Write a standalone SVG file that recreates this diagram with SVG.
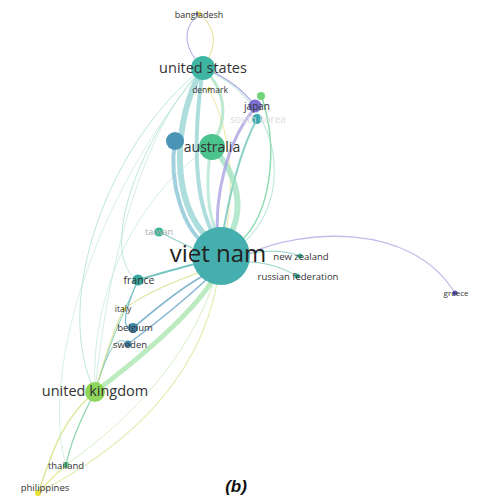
<svg xmlns="http://www.w3.org/2000/svg" width="478" height="496" viewBox="0 0 478 496">
<style>
.e{fill:none;stroke-linecap:round}
.t{font-family:"Open Sans","DejaVu Sans",sans-serif;fill:#333;text-anchor:middle}
</style>
<rect width="478" height="496" fill="#fff"/>
<g id="connectors">
<path class="e" d="M203,68 C110,140 50,300 95,392" stroke="#9fdcd0" stroke-width="1" opacity="0.7"/>
<path class="e" d="M203,68 C130,150 100,260 138,280" stroke="#9fdcd0" stroke-width="1" opacity="0.7"/>
<path class="e" d="M203,68 C150,120 110,240 95,392" stroke="#b6e3d3" stroke-width="1" opacity="0.6"/>
<path class="e" d="M211,146 C130,200 90,300 95,392" stroke="#b6e3d3" stroke-width="1" opacity="0.6"/>
<path class="e" d="M203,68 C300,110 290,230 221,256" stroke="#a9e0d2" stroke-width="1.2" opacity="0.7"/>
<path class="e" d="M199,14 C180,30 185,50 203,68" stroke="#a9a4e0" stroke-width="1"/>
<path class="e" d="M199,14 C220,30 215,50 203,68" stroke="#e6e08a" stroke-width="1"/>
<path class="e" d="M209,89 C235,140 235,200 221,256" stroke="#e6e08a" stroke-width="1" opacity="0.8"/>
<path class="e" d="M203,68 C230,78 245,92 256,107" stroke="#a9a4e0" stroke-width="1.2"/>
<path class="e" d="M261,95 C280,150 270,215 240,242" stroke="#8fdcb0" stroke-width="1.5"/>
<path class="e" d="M257,119 C240,150 228,200 222,240" stroke="#6fc6bc" stroke-width="2" opacity="0.8"/>
<path class="e" d="M203,68 C172,120 170,205 210,240" stroke="#8ccfd0" stroke-width="6" opacity="0.7"/>
<path class="e" d="M203,68 C194,130 192,195 214,236" stroke="#8ccfd0" stroke-width="4" opacity="0.7"/>
<path class="e" d="M175,141 C168,185 185,230 205,244" stroke="#7bbcd0" stroke-width="4" opacity="0.7"/>
<path class="e" d="M211,146 C245,180 242,222 226,240" stroke="#9ee0c0" stroke-width="6" opacity="0.75"/>
<path class="e" d="M211,146 C205,185 208,215 218,236" stroke="#a8e3cc" stroke-width="3" opacity="0.7"/>
<path class="e" d="M203,68 C228,92 228,122 211,146" stroke="#a7e2bf" stroke-width="3" opacity="0.75"/>
<path class="e" d="M256,107 C226,140 214,200 218,240" stroke="#aaa4e4" stroke-width="3" opacity="0.8"/>
<path class="e" d="M95,392 C150,350 195,310 214,278" stroke="#ace6b0" stroke-width="5" opacity="0.8"/>
<path class="e" d="M455,293 C410,220 300,230 248,254" stroke="#c0bcea" stroke-width="1.3"/>
<path class="e" d="M300,256 C285,250 265,250 248,254" stroke="#8fd2c6" stroke-width="1"/>
<path class="e" d="M297,276 C280,266 262,262 248,262" stroke="#8fd2c6" stroke-width="1"/>
<path class="e" d="M138,280 C165,272 185,266 200,263" stroke="#5fbab5" stroke-width="2.2" opacity="0.85"/>
<path class="e" d="M158,231 C175,240 188,246 196,250" stroke="#8fd2c6" stroke-width="1.2"/>
<path class="e" d="M133,328 C160,305 185,285 205,275" stroke="#6fa9c8" stroke-width="1.8" opacity="0.85"/>
<path class="e" d="M128,344 C160,320 190,295 208,278" stroke="#6fa9c8" stroke-width="1.5" opacity="0.85"/>
<path class="e" d="M124,309 C150,290 180,280 200,272" stroke="#d8df8a" stroke-width="1"/>
<path class="e" d="M138,280 C125,310 120,330 133,328" stroke="#7fb6cf" stroke-width="1.2"/>
<path class="e" d="M95,392 C105,360 115,330 128,344" stroke="#7fc6c0" stroke-width="1"/>
<path class="e" d="M95,392 C110,340 125,310 138,280" stroke="#7fd0c0" stroke-width="1"/>
<path class="e" d="M95,392 C110,340 118,320 124,309" stroke="#d8df8a" stroke-width="1"/>
<path class="e" d="M95,392 C60,420 50,460 38,493" stroke="#dce99a" stroke-width="1.5"/>
<path class="e" d="M95,392 C80,420 70,445 66,465" stroke="#8fd6b0" stroke-width="1.3"/>
<path class="e" d="M221,256 C210,380 120,450 38,493" stroke="#e2eeb0" stroke-width="1.2"/>
<path class="e" d="M221,256 C200,350 130,420 66,465" stroke="#d7efc8" stroke-width="1"/>
<path class="e" d="M66,465 C55,475 45,485 38,493" stroke="#e6e88a" stroke-width="1.2"/>
<path class="e" d="M203,68 C90,200 40,380 66,465" stroke="#c7ead8" stroke-width="1" opacity="0.7"/>
</g>
<g id="node-bangladesh"><circle cx="199" cy="14" r="2.5" fill="#e6d84a"/><circle cx="197" cy="14" r="1.5" fill="#6d63c8"/><text class="t" x="199" y="18" font-size="9">bangladesh</text></g>
<g id="node-united-states"><circle cx="203" cy="68" r="12" fill="#3fb5a4"/><text class="t" x="203" y="73" font-size="14.5">united states</text></g>
<g id="node-denmark"><circle cx="209" cy="89" r="2" fill="#e6d84a"/><text class="t" x="210" y="93" font-size="8.5">denmark</text></g>
<g id="node-green-small"><circle cx="261" cy="96" r="4" fill="#6fd47a"/></g>
<g id="node-japan"><circle cx="255" cy="106" r="6.5" fill="#7a6ed0"/><text class="t" x="257" y="110" font-size="10">japan</text></g>
<g id="node-south-korea"><circle cx="257" cy="119" r="5" fill="#3aa8b0"/><text class="t" x="258" y="123" font-size="10" style="fill:#dcdcdc">south korea</text></g>
<g id="node-blue"><circle cx="175" cy="141" r="9" fill="#4a94b6"/></g>
<g id="node-australia"><circle cx="212" cy="147" r="13" fill="#4cc28c"/><text class="t" x="212" y="152" font-size="14">australia</text></g>
<g id="node-taiwan"><circle cx="159" cy="232" r="4.5" fill="#3ab89a"/><text class="t" x="159" y="235" font-size="9" style="fill:#aaa">taiwan</text></g>
<g id="node-viet-nam"><circle cx="221" cy="256" r="29" fill="#45aeae"/><text class="t" x="218" y="262" font-size="24" style="fill:#222">viet nam</text></g>
<g id="node-new-zealand"><circle cx="300" cy="256" r="2.5" fill="#3ab89a"/><text class="t" x="301" y="260" font-size="9.5">new zealand</text></g>
<g id="node-russian-federation"><circle cx="297" cy="276" r="2.5" fill="#2fa38e"/><text class="t" x="298" y="280" font-size="9.5">russian federation</text></g>
<g id="node-greece"><circle cx="455" cy="293" r="2.5" fill="#5a50b8"/><text class="t" x="456" y="296" font-size="8">greece</text></g>
<g id="node-france"><circle cx="138" cy="280" r="5.5" fill="#35a89e"/><text class="t" x="139" y="284" font-size="10.5">france</text></g>
<g id="node-italy"><circle cx="124" cy="309" r="2" fill="#e6d84a"/><text class="t" x="123" y="312" font-size="8.5">italy</text></g>
<g id="node-belgium"><circle cx="133" cy="328" r="5" fill="#3d86ac"/><text class="t" x="135" y="331" font-size="9.5">belgium</text></g>
<g id="node-sweden"><circle cx="128" cy="344" r="3.5" fill="#3d86ac"/><text class="t" x="130" y="348" font-size="9.5">sweden</text></g>
<g id="node-united-kingdom"><circle cx="95" cy="392" r="10" fill="#8ed65a"/><text class="t" x="95" y="396" font-size="14.5">united kingdom</text></g>
<g id="node-thailand"><circle cx="66" cy="465" r="3" fill="#5cc48a"/><text class="t" x="66" y="469" font-size="9.5">thailand</text></g>
<g id="node-philippines"><circle cx="38" cy="493" r="3" fill="#e8e030"/><text class="t" x="45" y="491" font-size="9.5">philippines</text></g>
<text x="236" y="492" font-family="Liberation Sans,Arial,sans-serif" font-size="17" font-weight="bold" font-style="italic" text-anchor="middle" fill="#111">(b)</text>
</svg>
